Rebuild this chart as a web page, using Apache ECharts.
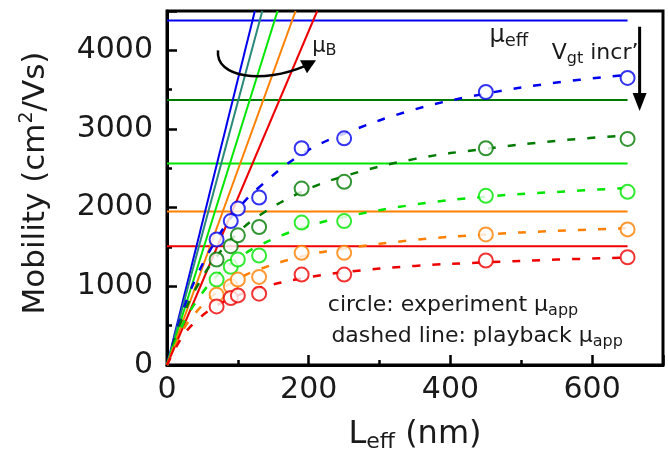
<!DOCTYPE html>
<html><head><meta charset="utf-8">
<script src="https://cdn.jsdelivr.net/npm/echarts@6/dist/echarts.min.js"></script>
<style>html,body{margin:0;padding:0;background:#fff}#c{width:668px;height:461px}</style>
</head><body><div id="c"></div>
<script>
// ---- data ----
const xTicks = [0, 200, 400, 600];
const yTicks = [0, 1000, 2000, 3000, 4000];
const setNames = ['Vgt 1', 'Vgt 2', 'Vgt 3', 'Vgt 4', 'Vgt 5'];
// effective mobility (horizontal lines, nm range 0..650)
const muEff = [4380, 3370, 2560, 1950, 1510];
const muEffL = [0, 650];
// ballistic mobility lines: L (nm) where the line reaches 4500
const muB_L = [0, 124, 134.5, 156, 181.5, 212];
const muB_top = [0, 4500];
// experimental apparent mobility (circles)
const L_exp = [70, 90, 100, 130, 190, 250, 450, 650];
const exp1 = [1596, 1830, 1988, 2129, 2755, 2882, 3470, 3649];
const exp2 = [1341, 1511, 1648, 1754, 2243, 2328, 2755, 2874];
const exp3 = [1086, 1248, 1341, 1392, 1810, 1830, 2150, 2201];
const exp4 = [894, 1000, 1086, 1120, 1426, 1426, 1660, 1724];
const exp5 = [745, 852, 885, 907, 1149, 1149, 1328, 1370];
// playback apparent mobility (dashed lines)
const L_fit = [0, 20, 40, 70, 100, 130, 190, 250, 350, 450, 550, 650];
const fit1 = [0, 620, 1090, 1600, 1980, 2260, 2680, 2940, 3250, 3450, 3590, 3690];
const fit2 = [0, 560, 960, 1380, 1680, 1900, 2200, 2400, 2620, 2750, 2850, 2920];
const fit3 = [0, 470, 790, 1130, 1350, 1520, 1740, 1880, 2040, 2140, 2200, 2250];
const fit4 = [0, 400, 660, 920, 1090, 1215, 1380, 1480, 1590, 1660, 1705, 1740];
const fit5 = [0, 335, 550, 755, 885, 980, 1100, 1180, 1260, 1305, 1340, 1365];

// ---- styling ----
const colors = ['#0000ee', '#007a00', '#00e600', '#ff8000', '#ee0000'];
const muBColors = ['#0000ee', '#2a8a7a', '#00e600', '#ff8000', '#ee0000'];
const FONT = 'DejaVu Sans';
const TXT = '#1a1a1a';

const exps = [exp1, exp2, exp3, exp4, exp5];
const fits = [fit1, fit2, fit3, fit4, fit5];
const zip = (a, b) => a.map((v, i) => [v, b[i]]);

const series = [];
setNames.forEach((n, i) => {
  series.push({
    name: n + ' mu_eff', type: 'line', symbol: 'none', silent: true,
    data: muEffL.map(x => [x, muEff[i]]),
    lineStyle: { color: colors[i], width: 2 }, z: 2
  });
  series.push({
    name: n + ' mu_B', type: 'line', symbol: 'none', silent: true,
    data: [[muB_L[0], muB_top[0]], [muB_L[i + 1], muB_top[1]]],
    lineStyle: { color: muBColors[i], width: 2 }, z: 3
  });
  series.push({
    name: n + ' playback', type: 'line', symbol: 'none', smooth: 0.4, silent: true,
    data: zip(L_fit, fits[i]),
    lineStyle: { color: colors[i], width: 2.5, type: [8, 12] }, z: 4
  });
  series.push({
    name: n + ' experiment', type: 'scatter', symbol: 'emptyCircle', symbolSize: 14,
    data: zip(L_exp, exps[i]),
    itemStyle: { color: colors[i], borderColor: colors[i], borderWidth: 2 }, z: 5
  });
});

const chart = echarts.init(document.getElementById('c'), null, { renderer: 'canvas' });
const axisLineStyle = { color: '#000', width: 3 };
chart.setOption({
  animation: false,
  grid: { left: 167, top: 11, right: 5, bottom: 96, show: true, borderColor: '#000', borderWidth: 3, backgroundColor: 'transparent' },
  xAxis: [{
    type: 'value', min: 0, max: 700, interval: 200,
    axisLine: { show: true, lineStyle: axisLineStyle },
    axisTick: { show: true, inside: true, length: 10, lineStyle: { color: '#000', width: 2.5 } },
    splitLine: { show: false },
    axisLabel: { fontFamily: FONT, fontSize: 30, color: TXT, margin: 10,
      formatter: v => xTicks.includes(v) ? String(v) : '' },
    name: 'L{s|eff} (nm)', nameLocation: 'middle', nameGap: 52,
    nameTextStyle: { fontFamily: FONT, fontSize: 32, color: TXT, lineHeight: 36,
      rich: { s: { fontFamily: FONT, fontSize: 22, color: TXT, lineHeight: 14, verticalAlign: 'bottom' } } }
  }, {
    type: 'value', min: 0, max: 700, interval: 100, position: 'bottom',
    axisLine: { show: false }, axisLabel: { show: false }, splitLine: { show: false },
    axisTick: { show: true, inside: true, length: 5, lineStyle: { color: '#000', width: 2.5 } }
  }],
  yAxis: [{
    type: 'value', min: 0, max: 4500, interval: 1000,
    axisLine: { show: true, lineStyle: axisLineStyle },
    axisTick: { show: true, inside: true, length: 10, lineStyle: { color: '#000', width: 2.5 } },
    splitLine: { show: false },
    axisLabel: { fontFamily: FONT, fontSize: 30, color: TXT, margin: 14,
      formatter: v => yTicks.includes(v) ? String(v) : '' },
    name: 'Mobility (cm{p|2}/Vs)', nameLocation: 'middle', nameGap: 114,
    nameTextStyle: { fontFamily: FONT, fontSize: 31, color: TXT, lineHeight: 35, padding: [0, 0, 0, 10],
      rich: { p: { fontFamily: FONT, fontSize: 19, color: TXT, lineHeight: 22, verticalAlign: 'top' } } }
  }, {
    type: 'value', min: 0, max: 4500, interval: 500, position: 'left',
    axisLine: { show: false }, axisLabel: { show: false }, splitLine: { show: false },
    axisTick: { show: true, inside: true, length: 5, lineStyle: { color: '#000', width: 2.5 } }
  }],
  series: series
});

// ---- annotations anchored to data coordinates ----
const px = (x, y) => chart.convertToPixel({ xAxisIndex: 0, yAxisIndex: 0 }, [x, y]);
const subRich = (fs, lh) => ({ s: { fontFamily: FONT, fontSize: fs, fill: TXT, lineHeight: lh, verticalAlign: 'bottom' } });
function label(pos, text, fs, sfs, slh) {
  return { type: 'text', x: pos[0], y: pos[1], z: 20,
    style: { text: text, fontFamily: FONT, fontSize: fs, fill: TXT, lineHeight: fs + 4,
      verticalAlign: 'middle', align: 'left', rich: subRich(sfs, slh) } };
}
const pEff = px(455, 4180);
const pV = px(543, 3960);
const pB = px(205, 4050);
const pC1 = px(227, 755);
const pC2 = px(232, 362);
const arr0 = px(72, 4000);
const dTop = px(667, 4300);
const dTip = px(667, 3230);

const g = [
  label(pEff, '\u03bc{s|eff}', 24, 18, 12),
  label(pV, 'V{s|gt} incr\u2019', 22, 16, 11),
  label(pB, '\u03bc{s|B}', 21, 16, 10),
  label(pC1, 'circle: experiment \u03bc{s|app}', 22, 16, 10),
  label(pC2, 'dashed line: playback \u03bc{s|app}', 22, 16, 10),
  { type: 'bezierCurve', z: 20, shape: {
      x1: arr0[0], y1: arr0[1], cpx1: arr0[0] - 3, cpy1: arr0[1] + 28,
      cpx2: arr0[0] + 46, cpy2: arr0[1] + 33, x2: arr0[0] + 86, y2: arr0[1] + 16 },
    style: { stroke: '#000', lineWidth: 2.5, fill: null } },
  { type: 'polygon', z: 20, shape: { points: [
      [arr0[0] + 98, arr0[1] + 10], [arr0[0] + 82, arr0[1] + 10], [arr0[0] + 89, arr0[1] + 23]] },
    style: { fill: '#000' } },
  { type: 'line', z: 20, shape: { x1: dTop[0], y1: dTop[1], x2: dTip[0], y2: dTip[1] - 14 },
    style: { stroke: '#000', lineWidth: 3 } },
  { type: 'polygon', z: 20, shape: { points: [
      [dTip[0], dTip[1]], [dTip[0] - 7, dTip[1] - 18], [dTip[0] + 7, dTip[1] - 18]] },
    style: { fill: '#000' } }
];
chart.setOption({ graphic: g });
</script>
</body></html>
